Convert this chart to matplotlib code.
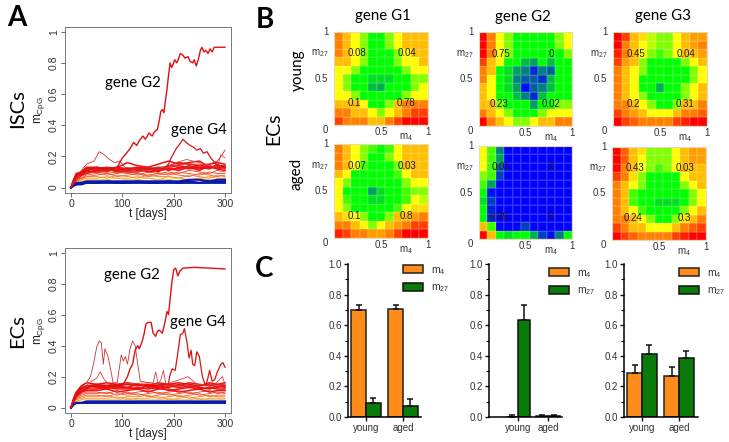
import matplotlib
matplotlib.use("Agg")
import numpy as np
import matplotlib.pyplot as plt
from matplotlib.colors import LinearSegmentedColormap
from matplotlib.patches import Patch

plt.rcParams["font.family"] = ["Liberation Sans", "DejaVu Sans"]
plt.rcParams["mathtext.default"] = "regular"

W, H = 729, 442

# panel A, time grid of the background trajectories
t_bg = [0, 5, 10, 20, 30, 50, 70, 90, 110, 130, 150, 170, 190, 210, 230, 250, 270, 285, 300]

isc_red = [
    [0, .05, .09, .10, .13, .13, .12, .13, .12, .13, .12, .12, .13, .14, .13, .14, .13, .14, .14],
    [0, .04, .08, .10, .12, .12, .13, .12, .11, .12, .13, .11, .12, .12, .14, .12, .13, .13, .13],
    [0, .05, .07, .09, .11, .12, .11, .12, .12, .11, .11, .13, .11, .13, .12, .13, .12, .15, .12],
    [0, .03, .06, .09, .10, .11, .12, .10, .11, .12, .10, .11, .12, .11, .13, .11, .14, .12, .13],
    [0, .04, .07, .08, .10, .10, .11, .11, .10, .10, .12, .10, .14, .16, .15, .14, .15, .16, .15],
    [0, .03, .05, .08, .09, .11, .10, .13, .16, .14, .13, .15, .17, .15, .16, .17, .13, .12, .11],
]
isc_orange = [
    [0, .03, .05, .07, .09, .10, .09, .10, .09, .08, .10, .09, .10, .09, .11, .10, .09, .11, .10],
    [0, .03, .05, .06, .08, .09, .08, .09, .10, .09, .08, .09, .08, .10, .09, .08, .10, .09, .09],
    [0, .02, .04, .06, .07, .08, .09, .07, .08, .09, .07, .08, .09, .08, .07, .09, .08, .07, .08],
    [0, .02, .04, .05, .07, .07, .06, .08, .07, .06, .08, .07, .07, .06, .08, .07, .06, .08, .07],
    [0, .02, .03, .05, .06, .06, .07, .06, .06, .07, .06, .05, .07, .06, .05, .06, .07, .06, .06],
    [0, .02, .03, .04, .05, .05, .05, .06, .05, .05, .06, .05, .05, .06, .05, .06, .05, .05, .06],
]
isc_blue = [
    [0, .02, .03, .03, .04, .04, .04, .04, .04, .04, .04, .04, .04, .04, .05, .05, .04, .05, .05],
    [0, .02, .02, .03, .03, .03, .04, .03, .03, .04, .03, .03, .04, .03, .04, .03, .04, .04, .04],
    [0, .01, .02, .02, .03, .03, .03, .03, .03, .03, .03, .03, .03, .03, .03, .03, .03, .03, .03],
]

isc_g2_t = [0, 5, 10, 20, 30, 50, 70, 90, 100, 108, 115, 122, 128, 135, 140, 145, 152, 158, 163, 168, 172, 175,
            178, 181, 184, 187, 190, 193, 196, 199, 202, 206, 210, 213, 218, 222, 228, 232, 237, 240, 244, 248,
            252, 255, 259, 263, 267, 271, 275, 279, 285, 292, 300]
isc_g2 = [0, .04, .08, .09, .12, .13, .12, .13, .19, .22, .25, .29, .27, .31, .33, .31, .35, .33, .36, .37, .43, .49,
          .50, .48, .56, .63, .72, .80, .77, .79, .82, .80, .83, .86, .85, .83, .84, .81, .80, .82, .78, .82,
          .88, .90, .87, .88, .86, .89, .87, .90, .90, .90, .90]
isc_g4_t = [0, 10, 40, 90, 140, 180, 190, 195, 205, 212, 218, 224, 232, 238, 245, 252, 258, 265, 272, 278, 285, 292, 300]
isc_g4 = [0, .07, .12, .11, .12, .12, .15, .19, .25, .28, .31, .29, .27, .26, .24, .25, .22, .23, .19, .17, .14, .14, .13]
isc_bump_t = [0, 10, 20, 30, 45, 55, 65, 75, 85, 95, 105, 130, 170, 220, 270, 285, 292, 300]
isc_bump = [0, .06, .11, .15, .17, .23, .21, .18, .16, .17, .13, .12, .13, .15, .15, .17, .20, .24]
isc_bump2_t = [0, 20, 80, 130, 190, 205, 225, 250, 270, 285, 292, 300]
isc_bump2 = [0, .09, .11, .10, .13, .16, .18, .16, .14, .13, .21, .19]

ec_red = [
    [0, .06, .10, .14, .16, .15, .16, .15, .16, .15, .14, .16, .15, .16, .15, .14, .16, .15, .16],
    [0, .05, .09, .13, .14, .15, .14, .14, .15, .14, .15, .14, .15, .14, .16, .15, .14, .15, .14],
    [0, .05, .09, .12, .14, .13, .14, .13, .13, .15, .13, .14, .13, .15, .13, .14, .15, .13, .14],
    [0, .05, .08, .12, .13, .14, .12, .14, .13, .12, .14, .12, .14, .13, .14, .13, .12, .14, .13],
    [0, .04, .08, .11, .12, .12, .13, .12, .12, .13, .12, .13, .11, .12, .13, .12, .13, .12, .12],
    [0, .04, .07, .10, .11, .11, .12, .10, .11, .12, .10, .12, .12, .10, .11, .12, .10, .11, .11],
]
ec_orange = [
    [0, .04, .06, .09, .10, .10, .09, .11, .09, .10, .11, .09, .10, .11, .09, .10, .11, .09, .10],
    [0, .03, .06, .08, .09, .09, .10, .08, .10, .08, .09, .10, .08, .09, .10, .08, .09, .10, .09],
    [0, .03, .05, .07, .08, .08, .07, .09, .08, .09, .07, .08, .09, .07, .08, .09, .07, .08, .08],
    [0, .03, .05, .06, .07, .07, .08, .06, .07, .07, .08, .06, .07, .08, .06, .07, .08, .07, .07],
    [0, .02, .04, .05, .06, .06, .06, .07, .05, .06, .06, .07, .05, .06, .07, .05, .06, .06, .06],
    [0, .02, .04, .05, .05, .05, .05, .05, .06, .05, .05, .05, .06, .05, .05, .06, .05, .05, .05],
]
ec_blue = [
    [0, .02, .03, .03, .04, .04, .04, .04, .04, .04, .04, .04, .04, .04, .04, .04, .04, .04, .04],
    [0, .02, .03, .03, .03, .03, .03, .03, .03, .03, .03, .03, .03, .03, .03, .03, .03, .03, .03],
]

ec_g2_t = [0, 5, 10, 20, 40, 70, 100, 110, 115, 120, 125, 130, 133, 138, 142, 146, 150, 156, 160, 165, 168, 172, 178,
           183, 187, 190, 193, 197, 200, 204, 208, 212, 218, 240, 270, 300]
ec_g2 = [0, .05, .09, .12, .14, .14, .14, .20, .25, .28, .37, .40, .38, .42, .47, .54, .55, .55, .48, .46, .49, .50, .48,
         .55, .62, .60, .70, .82, .89, .90, .85, .88, .90, .905, .90, .895]
ec_g4_t = [0, 10, 40, 100, 150, 190, 192, 197, 203, 208, 213, 218, 221, 226, 230, 234, 237, 241, 245, 250, 256, 262, 266,
           270, 275, 280, 285, 292, 296, 300]
ec_g4 = [0, .08, .14, .15, .14, .15, .20, .25, .24, .35, .47, .48, .51, .42, .32, .37, .28, .27, .36, .33, .20, .14, .18,
         .24, .17, .18, .23, .28, .29, .26]
ec_bump_t = [0, 10, 30, 38, 45, 50, 55, 59, 63, 66, 72, 77, 82, 90, 93, 98, 102, 106, 110, 115, 120, 125, 130, 135, 170, 230, 300]
ec_bump = [0, .10, .16, .20, .30, .39, .43, .42, .28, .38, .33, .25, .16, .16, .23, .34, .30, .33, .28, .38, .43, .40, .28, .17, .15, .14, .15]
ec_bump2_t = [0, 10, 40, 50, 57, 65, 75, 160, 165, 170, 175, 180, 185, 220, 228, 235, 245, 280, 295, 300]
ec_bump2 = [0, .09, .17, .19, .23, .18, .15, .16, .23, .15, .18, .24, .15, .19, .20, .18, .15, .15, .20, .15]

# panel B, colour level per cell, 0 blue, 4 green, 6 yellow, 10 red (top row first)
g1_young = [
    [8, 7, 6, 5, 4, 4, 5, 6, 7, 7, 7],
    [8, 7, 6, 5, 4, 4, 5, 6, 7, 7, 7],
    [8, 7, 6, 5, 4, 4, 4, 5, 6, 7, 7],
    [7, 7, 6, 5, 4, 4, 4, 5, 6, 6, 7],
    [6, 6, 5, 4, 4, 4, 4, 4, 5, 6, 6],
    [6, 5, 4, 4, 3.5, 3.5, 3.5, 4, 4, 5, 5],
    [6, 5, 4, 4, 3, 2.7, 4, 4, 4, 5, 6],
    [6, 6, 5, 4, 4, 4, 4, 4, 5, 6, 6],
    [7, 7, 7, 6, 4, 4, 5, 7, 8, 8, 8],
    [8, 8, 7, 7, 6, 5, 6, 7, 8, 9, 9],
    [9, 8, 8, 8, 7, 7, 8, 9, 10, 10, 10],
]
g2_young = [
    [10, 8, 6, 5, 4, 4, 4, 4, 4, 5, 6],
    [10, 8, 6, 5, 4, 4, 4, 4, 4, 5, 6],
    [10, 8, 6, 5, 4, 4, 4, 4, 4, 4, 5],
    [9, 7, 6, 4, 4, 3, 2.5, 4, 3, 4, 4],
    [8, 7, 4, 3.5, 2.5, 2, .7, 2, 1.5, 4, 4],
    [8, 6, 4, 3.5, 2, 1.5, 1.5, .7, 3, 4, 4],
    [7, 6, 4, 3.5, 2.5, .2, 1.5, 2, 3, 4, 4],
    [7, 6, 4, 4, 3, 2, .7, 3, 4, 4, 4],
    [7, 7, 5, 4, 4, 4, 2.5, 4, 4, 5, 5],
    [8, 7, 6, 5, 4, 4, 4, 5, 6, 6, 6],
    [10, 8, 7, 6, 5, 5, 6, 7, 7, 8, 8],
]
g3_young = [
    [10, 9, 7, 6.5, 5.5, 5, 5, 6, 7, 7.5, 7.5],
    [10, 8, 7, 6, 5.5, 5, 5, 6, 7, 7.5, 8],
    [9.5, 8, 7, 6, 5, 4.5, 5, 6, 7, 7, 7.5],
    [9, 7.5, 7, 5, 4, 4, 4, 4, 5, 6, 7],
    [8, 7, 6, 5, 4, 4, 4, 4, 4, 5, 6],
    [8, 7, 6, 4, 4, 4, 4, 4, 4, 5, 6],
    [8, 7, 6, 4, 4, 2.7, 4, 4, 5, 6, 7],
    [8, 7, 6, 5, 4, 4, 4, 4, 5, 6, 7],
    [8, 8, 7, 6, 5, 4, 4, 5, 7, 7, 8],
    [9, 8, 7.5, 7, 6, 6, 6, 7, 8, 8, 8.5],
    [10, 9, 8.5, 8, 8, 8, 8, 9, 9.5, 10, 10],
]
g1_aged = [
    [8, 7, 6, 5, 4.5, 4, 4.5, 6, 7, 7, 7],
    [8, 7, 6, 5, 4, 4, 5, 6, 7, 7, 7],
    [8, 7, 6, 4.5, 4, 4, 4, 5, 7, 7, 7],
    [7, 6, 4, 4, 4, 4, 4, 4.5, 6, 7, 7],
    [6, 5, 4, 4, 4, 4, 4, 4, 5, 6, 6],
    [6, 4, 4, 4, 2.5, 3.5, 4, 4, 4.5, 5, 5],
    [6, 4.5, 4, 4, 3.5, 3.5, 4, 4, 4.5, 6, 5.5],
    [6, 5, 4, 4, 4, 4, 4, 4.5, 6, 6.5, 6.5],
    [7, 6.5, 6, 5, 4, 4, 5, 7, 7, 7.5, 8],
    [8, 8, 7, 6, 5, 6, 7, 7.5, 8, 9, 9],
    [9.5, 9, 8, 8, 7.5, 7.5, 8, 9, 10, 10, 10],
]
g2_aged = [
    [6, 4.5, 2, 0, 0, 0, 0, 0, 0, 0, 0],
    [6, 4.5, 2.5, 0, 0, 0, 0, 0, 0, 0, 0],
    [6, 4.5, 1.5, 0, 0, 0, 0, 0, 0, 0, 0],
    [5, 4.5, 1, 0, 0, 0, 0, 0, 0, 0, 0],
    [4.5, 2.5, 0, 0, 0, 0, 0, 0, 0, 0, 0],
    [4, .3, 0, 0, 0, 0, 0, 0, 0, 0, 0],
    [3.5, 1, 0, 0, 0, 0, 0, 0, 0, 0, 0],
    [4, .5, 0, 0, 0, 0, 0, 0, 0, 0, 0],
    [4, .5, 0, 0, 0, 0, 0, 0, 0, 0, 0],
    [7, 4.5, 0, 0, 0, 1, 0, 0, 0, 0, 0],
    [10, 7, 4, 3.5, 4, 4, 2.7, 1, .2, 2, 4],
]
g3_aged = [
    [10, 8.5, 7, 6.5, 5, 5, 5, 6, 7, 7.5, 7.5],
    [10, 8.5, 7, 6, 5, 5, 5, 6, 7, 7.5, 7.5],
    [10, 8, 7, 6, 5, 4.5, 5, 6, 7, 7, 7],
    [9, 8, 6.5, 5, 4, 4, 4, 4, 6, 7, 7],
    [8, 7, 6, 5, 4, 4, 4, 4, 5, 6, 7],
    [8, 7, 4.5, 4, 4, 4, 4, 4, 4, 5, 6],
    [8, 7, 4.5, 4, 4, 3.5, 3.5, 3.5, 4, 5, 6],
    [8, 7, 6, 4.5, 4, 4, 4, 4, 5, 6, 7],
    [8, 8, 7, 6, 5, 4, 4, 5, 6.5, 7, 8],
    [9, 8, 7, 7, 6, 6, 6, 7, 8, 8.5, 9],
    [10, 9, 8.5, 8, 8, 8, 8, 9, 9.5, 10, 10],
]
# corner numbers: top left, top right, bottom left, bottom right
g1_young_nums = ["0.08", "0.04", "0.1", "0.78"]
g2_young_nums = ["0.75", "0", "0.23", "0.02"]
g3_young_nums = ["0.45", "0.04", "0.2", "0.31"]
g1_aged_nums = ["0.07", "0.03", "0.1", "0.8"]
g2_aged_nums = ["0.01", "0", "0.99", "0"]
g3_aged_nums = ["0.43", "0.03", "0.24", "0.3"]

# panel C
g1_m4 = [.70, .705]
g1_m27 = [.09, .07]
g1_m4_err = [.03, .03]
g1_m27_err = [.035, .045]
g2_m4 = [.0, .005]
g2_m27 = [.635, .008]
g2_m4_err = [.01, .008]
g2_m27_err = [.10, .008]
g3_m4 = [.285, .265]
g3_m27 = [.41, .385]
g3_m4_err = [.055, .06]
g3_m27_err = [.06, .045]
groups = ["young", "aged"]

mid_colors = ["#f03420", "#f24420", "#f45a20", "#f77420", "#fa9420", "#f8b020"]

fig = plt.figure(figsize=(W / 100, H / 100), dpi=100)


def box(x0, y0, x1, y1):
    # pixel box of the picture, y downwards
    return fig.add_axes([x0 / W, 1 - y1 / H, (x1 - x0) / W, (y1 - y0) / H])


def draw_lines(ax, reds, oranges, blues, extra):
    for s, c in zip(oranges, mid_colors):
        ax.plot(t_bg, s, color=c, lw=0.6)
    for s in reds:
        ax.plot(t_bg, s, color="#f01010", lw=1.1)
    for s in blues:
        ax.plot(t_bg, s, color="#0a1aa8", lw=1.5)
    for t, s, c, lw in extra:
        ax.plot(t, s, color=c, lw=lw)
    ax.set_xlim(-11.7, 311.7)
    ax.set_ylim(-0.035, 1.03)
    ax.set_xticks([0, 100, 200, 300])
    ax.set_yticks([0, .2, .4, .6, .8, 1])
    ax.set_yticklabels(["0", "0.2", "0.4", "0.6", "0.8", "1"])
    ax.tick_params(labelsize=7.5, length=3, width=0.6, color="#555555", labelcolor="#333333", pad=1.5)
    ax.tick_params(axis="y", labelrotation=90)
    for lab in ax.get_yticklabels():
        lab.set_va("center")
    for sp in ax.spines.values():
        sp.set_color("#777777")
        sp.set_linewidth(0.7)
    ax.set_xlabel("t [days]", fontsize=8.5, labelpad=-1, color="#222222")
    ax.set_ylabel("m$_{CpG}$", fontsize=8.5, labelpad=1, color="#222222")


a1 = box(65, 27, 231, 193)
draw_lines(a1, isc_red, isc_orange, isc_blue, [
    (isc_bump_t, isc_bump, "#c83232", 0.6),
    (isc_bump2_t, isc_bump2, "#d84040", 0.6),
    (isc_g4_t, isc_g4, "#d81818", 0.9),
    (isc_g2_t, isc_g2, "#e01010", 1.0),
])
a2 = box(65, 248, 231, 413)
draw_lines(a2, ec_red, ec_orange, ec_blue, [
    (ec_bump_t, ec_bump, "#c83232", 0.6),
    (ec_bump2_t, ec_bump2, "#d84040", 0.6),
    (ec_g4_t, ec_g4, "#e01010", 0.9),
    (ec_g2_t, ec_g2, "#e01010", 1.0),
])

heat = LinearSegmentedColormap.from_list("heat", [(0, "#0000ff"), (.4, "#00ff00"), (.6, "#ffff00"), (1, "#ff0000")])


def draw_heat(pos, grid, nums):
    ax = box(*pos)
    edges = np.linspace(0, 1, 12)
    ax.pcolormesh(edges, edges, np.array(grid)[::-1], cmap=heat, vmin=0, vmax=10,
                  edgecolor=(1, 1, 1, .1), linewidth=0.3)
    ax.set_xlim(0, 1)
    ax.set_ylim(0, 1)
    ax.set_xticks([])
    ax.set_yticks([])
    for sp in ax.spines.values():
        sp.set_color("#ead9b8")
        sp.set_linewidth(0.8)
    spots = [(.24, .77), (.78, .77), (.22, .235), (.77, .235)]
    for (x, y), s in zip(spots, nums):
        ax.text(x, y, s, fontsize=7, ha="center", va="center", color="#202020")
    for y, s in [(1, "1"), (.5, "0.5"), (-.05, "0")]:
        ax.text(-.06, y, s, fontsize=7, ha="right", va="center", color="#333333", transform=ax.transAxes)
    ax.text(-.06, .77, "m$_{27}$", fontsize=7, ha="right", va="center", color="#333333", transform=ax.transAxes)
    for x, s in [(.5, "0.5"), (1, "1")]:
        ax.text(x, -.07, s, fontsize=7, ha="center", va="center", color="#333333", transform=ax.transAxes)
    ax.text(.77, -.13, "m$_4$", fontsize=7, ha="center", va="center", color="#333333", transform=ax.transAxes)


draw_heat((334, 32, 428, 125), g1_young, g1_young_nums)
draw_heat((479, 32, 572, 126), g2_young, g2_young_nums)
draw_heat((613, 32, 707, 126), g3_young, g3_young_nums)
draw_heat((334, 144, 428, 238), g1_aged, g1_aged_nums)
draw_heat((479, 146, 572, 239), g2_aged, g2_aged_nums)
draw_heat((612, 147, 706, 240), g3_aged, g3_aged_nums)


def draw_bars(pos, m4, m27, m4_err, m27_err, width, centers, legend_at):
    ax = box(*pos)
    orange, green = "#ff8c1a", "#0a7a0a"
    cx = np.array(centers, dtype=float)
    ax.bar(cx - width / 2, m4, width, color=orange, edgecolor="#222222", linewidth=1.1)
    ax.bar(cx + width / 2, m27, width, color=green, edgecolor="#111111", linewidth=1.1)
    ax.errorbar(cx - width / 2, m4, yerr=[[0, 0], m4_err], fmt="none", ecolor="#111111", elinewidth=1.1, capsize=2.5, capthick=1.1)
    ax.errorbar(cx + width / 2, m27, yerr=[[0, 0], m27_err], fmt="none", ecolor="#111111", elinewidth=1.1, capsize=2.5, capthick=1.1)
    ax.set_xlim(pos[0], pos[2])
    ax.set_ylim(0, 1)
    ax.set_xticks(cx)
    ax.set_xticklabels(groups)
    ax.set_yticks([0, .2, .4, .6, .8, 1])
    ax.set_yticklabels(["0.0", "0.2", "0.4", "0.6", "0.8", "1.0"])
    ax.set_yticks(np.arange(.1, 1, .2), minor=True)
    ax.tick_params(axis="both", labelsize=7, length=3, width=1, color="#111111", labelcolor="#333333", pad=1.5)
    ax.tick_params(axis="y", which="minor", length=2, width=0.8)
    ax.spines["top"].set_visible(False)
    ax.spines["right"].set_visible(False)
    ax.spines["left"].set_linewidth(1.1)
    ax.spines["bottom"].set_linewidth(1.1)
    ax.patch.set_alpha(0)
    handles = [Patch(facecolor=orange, edgecolor="#222222", linewidth=1.1, label="m$_4$"),
               Patch(facecolor=green, edgecolor="#111111", linewidth=1.1, label="m$_{27}$")]
    fig.legend(handles=handles, loc="upper left", bbox_to_anchor=(legend_at[0] / W, 1 - legend_at[1] / H),
               frameon=False, fontsize=7.5, handlelength=1.9, handleheight=0.8, handletextpad=0.8,
               labelspacing=0.55, borderpad=0, borderaxespad=0, labelcolor="#333333")


draw_bars((348, 264, 421, 417), g1_m4, g1_m27, g1_m4_err, g1_m27_err, 14.7, [366, 403], (403, 265))
draw_bars((489, 264, 562, 417), g2_m4, g2_m27, g2_m4_err, g2_m27_err, 12, [518, 548], (549, 268))
draw_bars((624, 264, 698, 417), g3_m4, g3_m27, g3_m4_err, g3_m27_err, 14.7, [642, 679], (679, 268))


def label(x, y, s, size, **kw):
    fig.text(x / W, 1 - y / H, s, fontsize=size, ha="center", va="center", **kw)


calibri = ["Lato", "DejaVu Sans"]
label(17, 18, "A", 20, fontweight="bold", family=calibri)
label(265, 20, "B", 20, fontweight="bold", family=calibri)
label(264, 269, "C", 20, fontweight="bold", family=calibri)
label(18, 109, "ISCs", 14.5, rotation=90, family=calibri)
label(18, 331, "ECs", 14.5, rotation=90, family=calibri)
label(274, 129, "ECs", 14, rotation=90, family=calibri)
label(298, 70, "young", 11, rotation=90, family=calibri)
label(297, 174, "aged", 11, rotation=90, family=calibri)
label(383, 16, "gene G1", 10.8, family=calibri)
label(523, 17, "gene G2", 10.8, family=calibri)
label(663, 16, "gene G3", 10.8, family=calibri)
label(133, 83, "gene G2", 10.8, family=calibri)
label(199, 130, "gene G4", 10.8, family=calibri)
label(132, 275, "gene G2", 10.8, family=calibri)
label(198, 322, "gene G4", 10.8, family=calibri)

fig.savefig("out.png", dpi=100)
